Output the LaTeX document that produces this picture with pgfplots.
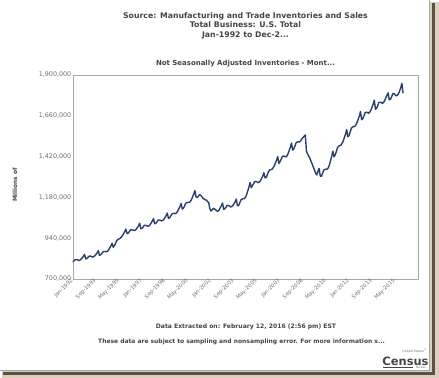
\documentclass[border=0pt]{standalone}
\usepackage{fontspec}
\setmainfont{DejaVu Sans}
\usepackage{pgfplots}
\usepackage{pgfplotstable}
\pgfplotsset{compat=1.18}
\definecolor{linecol}{HTML}{2B3F68}
\definecolor{framegrey}{HTML}{A8A8A8}
\definecolor{tickgrey}{HTML}{707070}
\definecolor{titlegrey}{HTML}{454545}
\definecolor{shadowdark}{HTML}{5E5040}
\definecolor{shadowlight}{HTML}{D9D0C2}
\begin{document}
\begin{tikzpicture}
\path[use as bounding box] (0bp,0bp) rectangle (439bp,-378bp);
% photo-style frame with shadow
\fill[shadowlight] (429bp,-2bp) rectangle (439bp,-378bp);
\fill[shadowlight] (2bp,-370bp) rectangle (439bp,-378bp);
\fill[shadowdark] (431.5bp,-3bp) rectangle (434.5bp,-374.5bp);
\fill[shadowdark] (3bp,-371.5bp) rectangle (434.5bp,-374.5bp);
\fill[white] (0bp,0bp) rectangle (429bp,-370bp);
\draw[gray!70, line width=0.6bp] (429bp,0bp) -- (429bp,-370bp) -- (0bp,-370bp);
% titles
\node[align=center, font=\fontsize{7.8}{9.6}\selectfont\bfseries, text=titlegrey] at (245.5bp,-25.5bp)
  {Source: Manufacturing and Trade Inventories and Sales\\Total Business: U.S. Total\\Jan-1992 to Dec-2...};
\node[font=\fontsize{7}{8}\selectfont\bfseries, text=titlegrey] at (245.5bp,-64bp)
  {Not Seasonally Adjusted Inventories - Mont...};
\node[rotate=90, font=\fontsize{5.8}{7}\selectfont\bfseries, text=titlegrey] at (15bp,-185bp) {Millions of};
\node[font=\fontsize{6.1}{7}\selectfont\bfseries, text=titlegrey] at (246bp,-327bp)
  {Data Extracted on: February 12, 2016 (2:56 pm) EST};
\node[font=\fontsize{6}{7}\selectfont\bfseries, text=titlegrey] at (241.5bp,-342bp)
  {These data are subject to sampling and nonsampling error. For more information s...};
% Census logo
\node[font=\fontsize{11.5}{12}\selectfont\bfseries, text=titlegrey, inner sep=0pt] at (405.5bp,-361bp) {Census};
\node[font=\fontsize{3.2}{4}\selectfont, text=tickgrey, inner sep=0pt, anchor=east] at (427bp,-351bp) {United States\textsuperscript{®}};
\draw[titlegrey, line width=1.2bp] (383bp,-367.5bp) -- (413bp,-367.5bp);
\node[font=\fontsize{2.8}{3}\selectfont, text=tickgrey, inner sep=0pt] at (421bp,-367.5bp) {Bureau};
\begin{axis}[
  scale only axis,
  width=345bp, height=204bp,
  at={(73bp,-279bp)}, anchor=south west,
  xmin=0, xmax=300,
  ymin=700000, ymax=1900000,
  axis line style={draw=framegrey, line width=1bp},
  major tick length=0pt,
  xtick={0,20,...,280},
  xticklabels={Jan-1992,Sep-1993,May-1995,Jan-1997,Sep-1998,May-2000,Jan-2002,Sep-2003,May-2005,Jan-2007,Sep-2008,May-2010,Jan-2012,Sep-2013,May-2015},
  x tick label style={rotate=45, anchor=east, font=\fontsize{5.4}{6}\selectfont, text=tickgrey, inner sep=1pt},
  ytick={700000,940000,1180000,1420000,1660000,1900000},
  yticklabels={{700,000},{940,000},{1,180,000},{1,420,000},{1,660,000},{1,900,000}},
  y tick label style={font=\fontsize{6.4}{7}\selectfont, text=tickgrey, inner sep=1.5pt},
  scaled y ticks=false,
  clip=false,
]
\addplot[linecol, line width=1.4bp, line join=round, no marks] coordinates {
(0,800000)(1,807000)(2,814000)(3,815000)(4,813000)(5,809000)(6,811000)(7,817000)(8,824000)(9,833000)(10,845000)(11,818000)
(12,820000)(13,827000)(14,834000)(15,835000)(16,833000)(17,829000)(18,831000)(19,837000)(20,845000)(21,854000)(22,866000)(23,840000)
(24,842000)(25,850000)(26,860000)(27,862000)(28,861000)(29,860000)(30,863000)(31,872000)(32,883000)(33,895000)(34,910000)(35,887000)
(36,896000)(37,909000)(38,926000)(39,932000)(40,936000)(41,939000)(42,947000)(43,955000)(44,967000)(45,979000)(46,994000)(47,967000)
(48,970000)(49,979000)(50,989000)(51,990000)(52,988000)(53,985000)(54,987000)(55,993000)(56,1003000)(57,1013000)(58,1028000)(59,996000)
(60,998000)(61,1006000)(62,1016000)(63,1016000)(64,1014000)(65,1010000)(66,1012000)(67,1019000)(68,1030000)(69,1041000)(70,1056000)(71,1025000)
(72,1028000)(73,1036000)(74,1047000)(75,1047000)(76,1045000)(77,1042000)(78,1044000)(79,1051000)(80,1062000)(81,1073000)(82,1088000)(83,1057000)
(84,1059000)(85,1071000)(86,1083000)(87,1086000)(88,1087000)(89,1084000)(90,1089000)(91,1099000)(92,1112000)(93,1126000)(94,1144000)(95,1112000)
(96,1116000)(97,1129000)(98,1145000)(99,1149000)(100,1151000)(101,1150000)(102,1156000)(103,1167000)(104,1183000)(105,1199000)(106,1220000)(107,1183000)
(108,1180000)(109,1186000)(110,1196000)(111,1192000)(112,1185000)(113,1174000)(114,1171000)(115,1165000)(116,1165000)(117,1155000)(118,1150000)(119,1113000)
(120,1100000)(121,1106000)(122,1116000)(123,1112000)(124,1107000)(125,1100000)(126,1099000)(127,1106000)(128,1119000)(129,1131000)(130,1147000)(131,1110000)
(132,1113000)(133,1122000)(134,1133000)(135,1132000)(136,1130000)(137,1124000)(138,1126000)(139,1132000)(140,1143000)(141,1154000)(142,1170000)(143,1131000)
(144,1132000)(145,1148000)(146,1165000)(147,1170000)(148,1173000)(149,1173000)(150,1180000)(151,1197000)(152,1219000)(153,1241000)(154,1268000)(155,1237000)
(156,1249000)(157,1260000)(158,1273000)(159,1274000)(160,1271000)(161,1267000)(162,1270000)(163,1278000)(164,1292000)(165,1305000)(166,1325000)(167,1295000)
(168,1296000)(169,1314000)(170,1333000)(171,1341000)(172,1344000)(173,1345000)(174,1354000)(175,1366000)(176,1382000)(177,1399000)(178,1420000)(179,1380000)
(180,1390000)(181,1404000)(182,1421000)(183,1423000)(184,1422000)(185,1418000)(186,1423000)(187,1437000)(188,1456000)(189,1475000)(190,1500000)(191,1458000)
(192,1465000)(193,1482000)(194,1501000)(195,1506000)(196,1507000)(197,1506000)(198,1513000)(199,1525000)(200,1532000)(201,1540000)(202,1547000)(203,1452000)
(204,1435000)(205,1422000)(206,1410000)(207,1392000)(208,1376000)(209,1358000)(210,1340000)(211,1322000)(212,1312000)(213,1335000)(214,1350000)(215,1305000)
(216,1304000)(217,1320000)(218,1340000)(219,1344000)(220,1346000)(221,1346000)(222,1354000)(223,1372000)(224,1398000)(225,1422000)(226,1452000)(227,1418000)
(228,1430000)(229,1450000)(230,1473000)(231,1481000)(232,1485000)(233,1487000)(234,1498000)(235,1512000)(236,1533000)(237,1553000)(238,1579000)(239,1537000)
(240,1544000)(241,1564000)(242,1586000)(243,1593000)(244,1597000)(245,1597000)(246,1607000)(247,1621000)(248,1639000)(249,1659000)(250,1685000)(251,1637000)
(252,1643000)(253,1659000)(254,1679000)(255,1681000)(256,1680000)(257,1675000)(258,1681000)(259,1692000)(260,1710000)(261,1728000)(262,1752000)(263,1699000)
(264,1705000)(265,1720000)(266,1739000)(267,1740000)(268,1739000)(269,1733000)(270,1738000)(271,1749000)(272,1767000)(273,1780000)(274,1795000)(275,1754000)
(276,1758000)(277,1770000)(278,1790000)(279,1792000)(280,1785000)(281,1778000)(282,1780000)(283,1790000)(284,1805000)(285,1825000)(286,1851000)(287,1792000)
};
\end{axis}
\end{tikzpicture}
\end{document}
